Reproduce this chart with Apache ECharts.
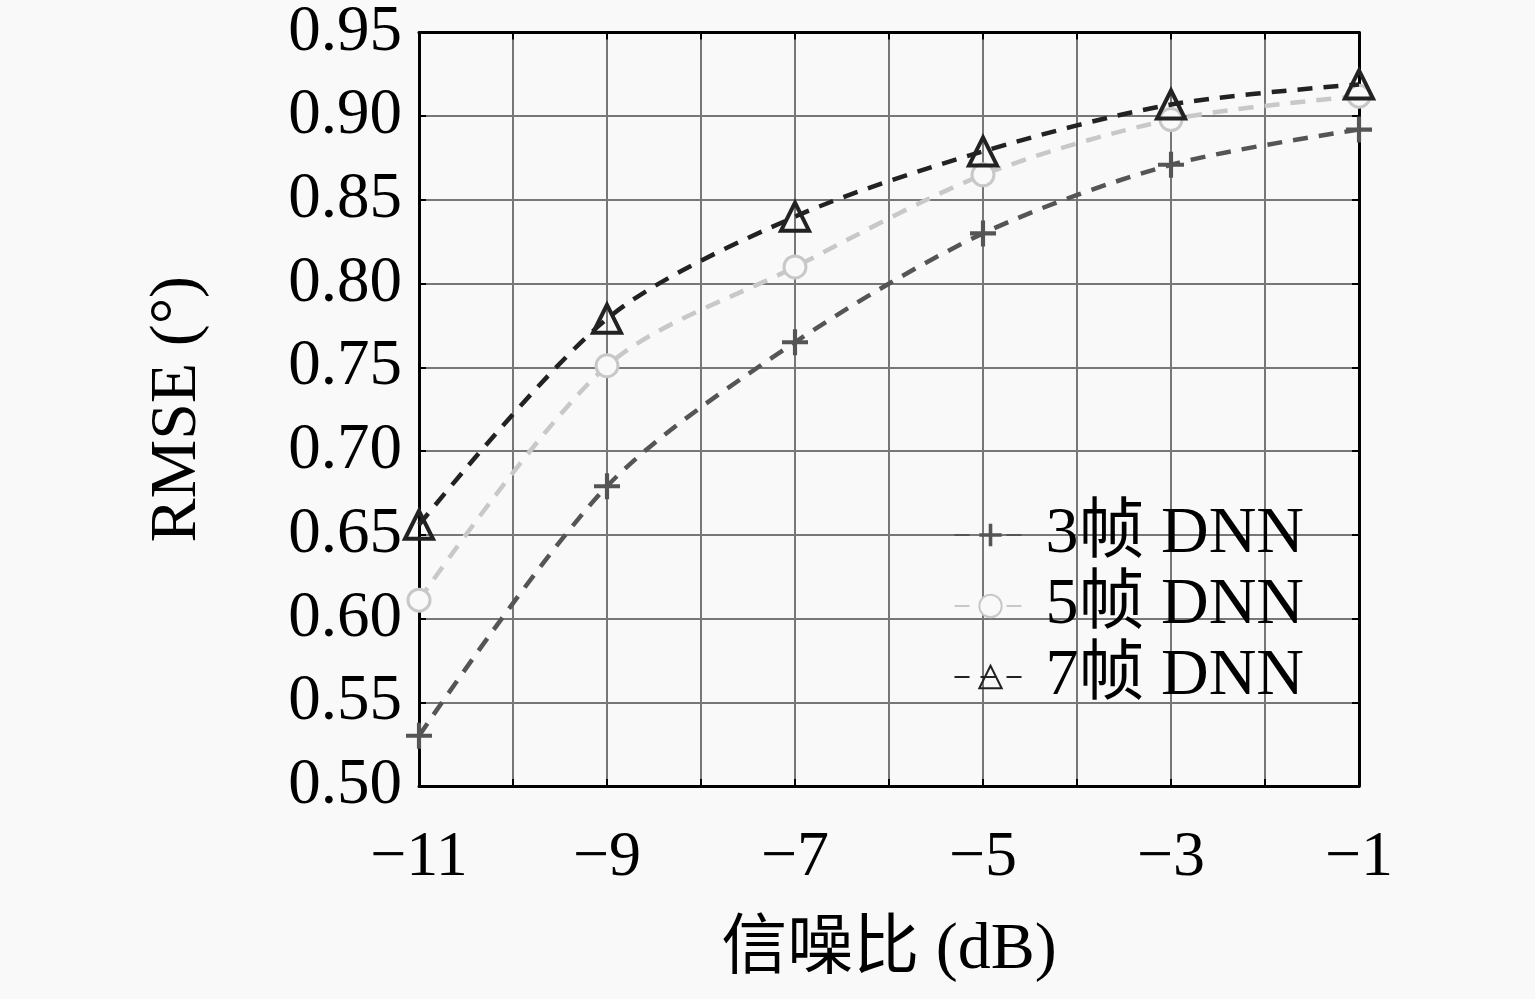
<!DOCTYPE html>
<html>
<head>
<meta charset="utf-8">
<script src="https://cdn.jsdelivr.net/npm/echarts@6/dist/echarts.min.js"></script>
<style>
  html, body { margin: 0; padding: 0; background: #f9f9f9; }
  #chart { width: 1535px; height: 999px; }
</style>
</head>
<body>
<div id="chart"></div>
<script>
// 信噪比 (dB)
var snr = [-11, -9, -7, -5, -3, -1];
var names = ['3帧 DNN', '5帧 DNN', '7帧 DNN'];
var rmse3 = [0.530, 0.679, 0.765, 0.830, 0.871, 0.892];
var rmse5 = [0.611, 0.751, 0.810, 0.865, 0.898, 0.912];
var rmse7 = [0.656, 0.779, 0.840, 0.879, 0.907, 0.919];
var xTicks = [-11, -9, -7, -5, -3, -1];

var serif = '"Liberation Serif", "Noto Sans CJK SC", serif';
var plus = 'path://M-1.6,-10 H1.6 V10 H-1.6 Z M-10,-1.6 H10 V1.6 H-10 Z';
var bg = '#f9f9f9';

function pairs(ys) {
    return snr.map(function (x, i) { return [x, ys[i]]; });
}

// 边框轴：只画线和内刻度
function frameAxis(extra) {
    var a = {
        axisLine: { show: true, lineStyle: { color: '#000', width: 3 } },
        axisTick: { show: true, inside: true, length: 7, lineStyle: { color: '#000', width: 2 } },
        axisLabel: { show: false },
        splitLine: { show: false }
    };
    for (var k in extra) a[k] = extra[k];
    return a;
}

var myChart = echarts.init(document.getElementById('chart'));
var option = {
    backgroundColor: bg,
    animation: false,
    grid: {
        left: 419,
        right: 176,
        top: 30,
        bottom: 213
    },
    legend: {
        orient: 'vertical',
        right: 226,
        top: 497,
        itemWidth: 72,
        itemHeight: 28,
        itemGap: 5,
        textStyle: {
            fontFamily: serif,
            fontSize: 66,
            color: '#000',
            padding: [0, 0, 0, 14]
        },
        data: names
    },
    xAxis: [
        frameAxis({
            type: 'value',
            min: -11,
            max: -1,
            interval: 1,
            position: 'bottom',
            name: '信噪比 (dB)',
            nameLocation: 'middle',
            nameGap: 132,
            nameTextStyle: { fontFamily: serif, fontSize: 66, color: '#000' },
            splitLine: {
                show: true, showMinLine: false, showMaxLine: false,
                lineStyle: { color: '#777', width: 2 }
            },
            axisLabel: {
                margin: 40,
                fontFamily: serif,
                fontSize: 64,
                color: '#000',
                formatter: function (v) {
                    return xTicks.indexOf(v) >= 0 ? String(v).replace('-', '\u2212') : '';
                }
            }
        }),
        frameAxis({ type: 'value', min: -11, max: -1, interval: 1, position: 'top' })
    ],
    yAxis: [
        frameAxis({
            type: 'value',
            min: 0.5,
            max: 0.95,
            interval: 0.05,
            position: 'left',
            name: 'RMSE (°)',
            nameLocation: 'middle',
            nameGap: 208,
            nameTextStyle: { fontFamily: serif, fontSize: 66, color: '#000' },
            splitLine: {
                show: true, showMinLine: false, showMaxLine: false,
                lineStyle: { color: '#777', width: 2 }
            },
            axisLabel: {
                margin: 17,
                fontFamily: serif,
                fontSize: 65,
                color: '#000',
                formatter: function (v) { return v.toFixed(2); }
            }
        }),
        frameAxis({ type: 'value', min: 0.5, max: 0.95, interval: 0.05, position: 'right' })
    ],
    series: [
        {
            name: names[0],
            type: 'line',
            smooth: 0.3,
            data: pairs(rmse3),
            symbol: plus,
            symbolSize: 26,
            lineStyle: { color: '#555', width: 4.5, type: [15, 11] },
            itemStyle: { color: '#555' },
            z: 3
        },
        {
            name: names[1],
            type: 'line',
            smooth: 0.3,
            data: pairs(rmse5),
            symbol: 'circle',
            symbolSize: 22,
            lineStyle: { color: '#c8c8c8', width: 4.5, type: [15, 11] },
            itemStyle: { color: bg, borderColor: '#c8c8c8', borderWidth: 3 },
            z: 4
        },
        {
            name: names[2],
            type: 'line',
            smooth: 0.3,
            data: pairs(rmse7),
            symbol: 'triangle',
            symbolSize: 28,
            lineStyle: { color: '#222', width: 4.5, type: [15, 11] },
            itemStyle: { color: 'rgba(0,0,0,0)', borderColor: '#222', borderWidth: 4 },
            z: 5
        }
    ]
};
myChart.setOption(option);
window.addEventListener('resize', function () {
    myChart.resize();
});
</script>
</body>
</html>
